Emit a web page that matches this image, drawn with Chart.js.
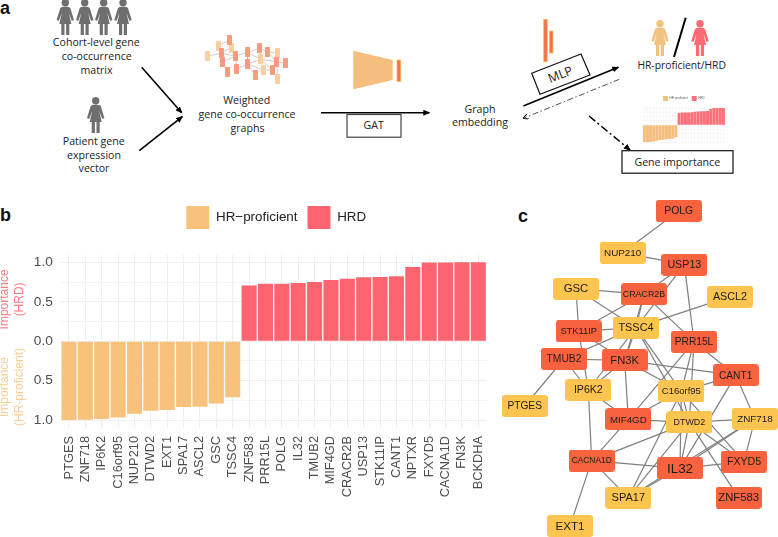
<!DOCTYPE html>
<html><head><meta charset="utf-8">
<script src="https://cdn.jsdelivr.net/npm/chart.js@4"></script>
<style>
html,body{margin:0;padding:0;background:#fff;width:778px;height:537px;overflow:hidden}
svg,canvas{position:absolute;display:block}
svg text{font-family:"Open Sans",sans-serif;fill:#222;text-anchor:middle;font-size:10.6px}
svg text.L{font-family:"Liberation Sans",sans-serif;font-weight:bold;font-size:18px;fill:#111;text-anchor:start}
</style></head><body>
<svg width="778" height="537" style="left:0;top:0">
<defs>
<g id="p"><circle cx="0" cy="3.7" r="3.7"/><path d="M-3.5,8 C-1,7.5 1,7.5 3.5,8 L5,9 L8.7,21 L6.5,22 L3.5,14 L6,25 H-6 L-3.5,14 L-6.5,22 L-8.7,21 L-5,9 Z"/><rect x="-4" y="25" width="3.2" height="11"/><rect x="0.8" y="25" width="3.2" height="11"/></g>
<marker id="ah" markerWidth="7" markerHeight="6" refX="6" refY="3" orient="auto" markerUnits="userSpaceOnUse"><path d="M0,0 L7,3 L0,6 Z" fill="#000"/></marker>
<marker id="ao" markerWidth="6" markerHeight="6" refX="5.5" refY="3" orient="auto" markerUnits="userSpaceOnUse"><path d="M0,0 L6,3 L0,6" fill="none" stroke="#000" stroke-width="0.9"/></marker>
</defs>
<text class="L" x="0" y="14">a</text><text class="L" x="0" y="221">b</text><text class="L" x="518" y="222">c</text>
<g fill="#6f6f6f"><use href="#p" x="65.3" y="-1"/><use href="#p" x="84.7" y="-1"/><use href="#p" x="103.7" y="-1"/><use href="#p" x="123" y="-1"/><use href="#p" x="95.7" y="97"/></g>
<use href="#p" x="660" y="20" fill="#F3C27E"/><use href="#p" x="700" y="20" fill="#FC6A74"/>
<line x1="685.7" y1="17.7" x2="674" y2="57" stroke="#000" stroke-width="2"/>
<text x="96.3" y="46">Cohort-level gene</text><text x="96.7" y="60">co-occurrence</text><text x="96.5" y="73.5">matrix</text>
<text x="93.7" y="145">Patient gene</text><text x="94" y="159">expression</text><text x="94" y="172">vector</text>
<text x="246.7" y="104">Weighted</text><text x="247" y="118">gene co-occurrence</text><text x="247.5" y="131.5">graphs</text>
<line x1="141.7" y1="67.3" x2="181.7" y2="112.7" stroke="#000" stroke-width="1.6" marker-end="url(#ah)"/>
<line x1="139.3" y1="150.7" x2="182.3" y2="116.7" stroke="#000" stroke-width="1.6" marker-end="url(#ah)"/>
<polygon points="353.3,50.7 392.7,60 392.7,80 353.3,89.3" fill="#F3BE7E"/>
<rect x="397" y="60" width="3.8" height="21.5" fill="#F4724A" stroke="#F6C05B" stroke-width="0.8"/>
<line x1="321" y1="112.7" x2="429.3" y2="112.7" stroke="#000" stroke-width="1.6" marker-end="url(#ah)"/>
<rect x="347" y="114.5" width="54" height="22.7" fill="#fff" stroke="#444" stroke-width="1.2"/>
<text x="373.7" y="129.3">GAT</text>
<text x="480" y="112.7">Graph</text><text x="480" y="126">embedding</text>
<rect x="543.7" y="19.4" width="3.6" height="42.4" fill="#F4724A" stroke="#F6C05B" stroke-width="0.8"/>
<rect x="549.4" y="31" width="3.6" height="22" fill="#F4724A" stroke="#F6C05B" stroke-width="0.8"/>
<polygon points="531.7,73.3 581,54 590,75 540,94.3" fill="#fff" stroke="#111" stroke-width="1.2"/>
<text x="0" y="0" transform="translate(561.7,78.5) rotate(-21)" style="font-size:12.5px">MLP</text>
<line x1="523.3" y1="106" x2="618.3" y2="67.3" stroke="#000" stroke-width="1.6" marker-end="url(#ah)"/>
<line x1="619.3" y1="79.3" x2="523.3" y2="118.3" stroke="#222" stroke-width="0.8" stroke-dasharray="6,2.5,1.5,2.5" marker-end="url(#ao)"/>
<line x1="589" y1="116" x2="630" y2="150" stroke="#000" stroke-width="1.5" stroke-dasharray="8,3,2,3" marker-end="url(#ah)"/>
<rect x="622" y="150.7" width="111" height="22.5" fill="#fff" stroke="#111" stroke-width="1.2"/>
<text x="677.3" y="166">Gene importance</text>
<text x="681.7" y="69" style="font-size:10.3px">HR-proficient/HRD</text>
</svg>
<canvas id="main" width="622" height="341" style="left:0;top:196px"></canvas>
<canvas id="net" width="288" height="347" style="left:490px;top:190px"></canvas>
<canvas id="miniGraph" width="100" height="65" style="left:195px;top:25px"></canvas>
<canvas id="miniBars" width="90" height="56" style="left:640px;top:92px"></canvas>
<script>
// ---- panel b: gene importance ----
const genes = ["PTGES","ZNF718","IP6K2","C16orf95","NUP210","DTWD2","EXT1","SPA17","ASCL2","GSC","TSSC4","ZNF583","PRR15L","POLG","IL32","TMUB2","MIF4GD","CRACR2B","USP13","STK11IP","CANT1","NPTXR","FXYD5","CACNA1D","FN3K","BCKDHA"];
const hrProficient = [-1.0,-0.995,-0.987,-0.966,-0.92,-0.88,-0.873,-0.835,-0.83,-0.79,-0.71,null,null,null,null,null,null,null,null,null,null,null,null,null,null,null];
const hrd = [null,null,null,null,null,null,null,null,null,null,null,0.707,0.729,0.729,0.737,0.75,0.775,0.79,0.81,0.813,0.822,0.94,0.998,0.998,1.0,1.0];
const yTicks = [-1,-0.75,-0.5,-0.25,0,0.25,0.5,0.75,1];
const seriesNames = ["HR\u2212proficient","HRD"];

// ---- panel c: co-expression network ----
const nodeNames = ["POLG","NUP210","USP13","GSC","CRACR2B","ASCL2","STK11IP","TSSC4","PRR15L","TMUB2","FN3K","CANT1","IP6K2","C16orf95","PTGES","MIF4GD","DTWD2","ZNF718","CACNA1D","IL32","FXYD5","SPA17","ZNF583","EXT1"];
const nodeX = [566,398,583,258,462,720,266,438,612,222,404,737,295,574,104,415,598,795,305,570,762,415,746,240];
const nodeY = [63,188,224,296,313,320,424,413,455,507,511,556,600,604,648,688,697,686,812,835,815,923,923,1008];
const nodeHrd = [1,0,1,0,1,0,1,0,1,1,1,1,0,0,0,1,0,0,1,1,1,0,1,0];
const nodeFont = [10.4,9.9,10.7,11.4,8.9,10.8,9.3,10.9,10.2,10.3,11.2,10.2,10.6,9.5,10.2,9.7,8.9,9.9,8.4,13.4,10.6,11,11.3,11.6];
const edges = [["POLG","NUP210"],["NUP210","USP13"],["USP13","CRACR2B"],["USP13","TSSC4"],["USP13","PRR15L"],
["GSC","CRACR2B"],["GSC","STK11IP"],["GSC","TSSC4"],["CRACR2B","STK11IP"],["CRACR2B","TSSC4"],["CRACR2B","FN3K"],["CRACR2B","PRR15L"],
["ASCL2","TSSC4"],["STK11IP","TSSC4"],["STK11IP","IP6K2"],["STK11IP","FN3K"],["TSSC4","TMUB2"],["TSSC4","FN3K"],["TSSC4","IP6K2"],["TSSC4","C16orf95"],["TSSC4","DTWD2"],
["TMUB2","FN3K"],["TMUB2","IP6K2"],["TMUB2","PTGES"],["FN3K","IP6K2"],["FN3K","CANT1"],["FN3K","C16orf95"],["FN3K","MIF4GD"],
["PRR15L","CANT1"],["PRR15L","C16orf95"],["PRR15L","DTWD2"],["PRR15L","MIF4GD"],["CANT1","C16orf95"],["CANT1","IL32"],["CANT1","ZNF718"],
["IP6K2","MIF4GD"],["IP6K2","CACNA1D"],["C16orf95","MIF4GD"],["C16orf95","DTWD2"],["C16orf95","IL32"],["C16orf95","FXYD5"],["C16orf95","SPA17"],
["DTWD2","MIF4GD"],["DTWD2","ZNF718"],["DTWD2","CACNA1D"],["DTWD2","IL32"],["DTWD2","FXYD5"],["DTWD2","ZNF583"],["DTWD2","SPA17"],
["ZNF718","IL32"],["ZNF718","FXYD5"],["ZNF718","SPA17"],["MIF4GD","CACNA1D"],["CACNA1D","IL32"],["CACNA1D","SPA17"],["CACNA1D","EXT1"],["IL32","FXYD5"],["IL32","SPA17"]];

// ---- panel a: thumbnail graph ----
const thumbX = [38,70,108,197,205,248,248,103,78,82,122,96,125,158,158,180,194,217,232,245,272];
const thumbY = [93,62,68,103,135,85,162,45,85,110,93,140,133,82,117,150,70,80,135,110,115];
const thumbHrd = [0,0,0,0,0,0,0,1,1,1,1,1,1,1,1,1,1,1,1,1,1];
const thumbEdges = [[0,8],[1,8],[1,9],[2,8],[2,10],[7,1],[8,10],[9,10],[9,11],[10,12],[10,13],[13,14],[13,16],[14,15],[14,3],[16,3],[16,17],[17,5],[3,4],[3,18],[4,18],[5,19],[19,20],[19,6],[18,6],[13,3],[14,4],[17,19],[12,14],[3,19]];

const ORANGE="#F8C17C", RED="#FD646F", GRID="#efefef", INK="#4d4d4d";
Chart.defaults.font.family='"Liberation Sans",Arial,sans-serif';
Chart.defaults.animation=false;
Chart.defaults.responsive=false;

const legendHeight = h => ({id:'legendHeight',afterInit(c){const f=c.legend.fit;c.legend.fit=function(){f.call(this);this.height=h;};}});
const legendShift = dx => ({id:'legendShift',afterLayout(c){c.legend.left+=dx;c.legend.right+=dx;}});
const setTicks = s => { s.ticks = yTicks.map(v=>({value:v})); };
const isMajor = v => Math.abs(v*2-Math.round(v*2))<1e-6;

const axisTitles = {id:'axisTitles',afterDraw(c){
  const ctx=c.ctx,y=c.scales.y;
  const put=(lines,val,col)=>{ctx.save();ctx.fillStyle=col;ctx.font='12px "Liberation Sans"';ctx.textAlign='center';ctx.textBaseline='middle';
    lines.forEach((t,i)=>{ctx.save();ctx.translate(4.7+15.3*i,y.getPixelForValue(val));ctx.rotate(-Math.PI/2);ctx.fillText(t,0,0);ctx.restore();});ctx.restore();};
  put(["Importance","(HRD)"],0.53,"#FB7B82");
  put(["Importance","(HR-proficient)"],-0.58,"#F9CE95");
}};

new Chart(document.getElementById('main'),{
  type:'bar',
  data:{labels:genes,datasets:[
    {label:seriesNames[0],data:hrProficient,backgroundColor:ORANGE,barPercentage:0.92,categoryPercentage:1},
    {label:seriesNames[1],data:hrd,backgroundColor:RED,barPercentage:0.92,categoryPercentage:1}]},
  options:{
    layout:{padding:{left:0,right:135.5,top:0,bottom:0}},
    plugins:{tooltip:{enabled:false},
      legend:{position:'top',labels:{boxWidth:23,boxHeight:23,padding:10,color:'#222',font:{size:13.4}}}},
    scales:{
      x:{stacked:true,grid:{color:GRID,lineWidth:1.1,offset:false,drawTicks:false},border:{display:false},
         afterFit(s){s.height=109;},
         ticks:{color:INK,font:{size:12.8},minRotation:90,maxRotation:90,autoSkip:false,padding:8}},
      y:{stacked:true,min:-1.1,max:1.1,afterBuildTicks:setTicks,afterFit(s){s.width=60.8;},
         grid:{color:GRID,drawTicks:false,lineWidth:c=>isMajor(c.tick.value)?1.1:0.7},border:{display:false},
         ticks:{color:INK,font:{size:13.7},padding:8,autoSkip:false,
           callback:v=>isMajor(v)?Math.abs(v).toFixed(1):''}}
    }},
  plugins:[legendHeight(58.4),legendShift(33),axisTitles]
});

// rounded node sprites
function sprite(w,h,r,col){const k=document.createElement('canvas');k.width=w;k.height=h;const g=k.getContext('2d');g.fillStyle=col;g.beginPath();g.roundRect(0,0,w,h,r);g.fill();return k;}
const spriteRed=sprite(46,22,3,"#F8623E"), spriteOrange=sprite(46,22,3,"#FDC54F");
const at=n=>{const i=nodeNames.indexOf(n);return {x:nodeX[i],y:nodeY[i]};};
const hiddenScale=(max,rev)=>({type:'linear',min:0,max,reverse:rev,display:false});

const nodeLabels={id:'nodeLabels',afterDatasetsDraw(c){
  const ctx=c.ctx,m=c.getDatasetMeta(0);
  ctx.save();ctx.fillStyle='#1c1c1c';ctx.textAlign='center';ctx.textBaseline='middle';
  m.data.forEach((p,i)=>{ctx.font=nodeFont[i]+'px "Liberation Sans"';ctx.fillText(nodeNames[i],p.x,p.y+0.5);});
  ctx.restore();
}};
new Chart(document.getElementById('net'),{
  type:'scatter',
  data:{datasets:[
    {label:'genes',order:0,clip:false,data:nodeNames.map((n,i)=>({x:nodeX[i],y:nodeY[i]})),
     pointStyle:nodeHrd.map(h=>h?spriteRed:spriteOrange),pointRadius:8},
    ...edges.map(e=>({order:1,type:'line',data:[at(e[0]),at(e[1])],borderColor:'#808080',borderWidth:1.2,pointRadius:0}))
  ]},
  options:{layout:{padding:0,autoPadding:false},plugins:{legend:{display:false},tooltip:{enabled:false}},
    scales:{x:hiddenScale(864,false),y:hiddenScale(1041,true)}},
  plugins:[nodeLabels]
});

// panel a thumbnails
const tRed=sprite(5,10,0.8,"#F79A80"), tOrange=sprite(5,10,0.8,"#F9CFA0");
new Chart(document.getElementById('miniGraph'),{
  type:'scatter',
  data:{datasets:[
    {order:0,clip:false,data:thumbX.map((x,i)=>({x,y:thumbY[i]})),pointStyle:thumbHrd.map(h=>h?tRed:tOrange),pointRadius:3},
    ...thumbEdges.map(e=>({order:1,type:'line',data:[{x:thumbX[e[0]],y:thumbY[e[0]]},{x:thumbX[e[1]],y:thumbY[e[1]]}],borderColor:'#b5b5b5',borderWidth:0.7,pointRadius:0}))
  ]},
  options:{layout:{padding:0,autoPadding:false},plugins:{legend:{display:false},tooltip:{enabled:false}},
    scales:{x:hiddenScale(300,false),y:hiddenScale(195,true)}}
});
new Chart(document.getElementById('miniBars'),{
  type:'bar',
  data:{labels:genes,datasets:[
    {label:seriesNames[0],data:hrProficient,backgroundColor:"#F5BE7E",barPercentage:0.95,categoryPercentage:1},
    {label:seriesNames[1],data:hrd,backgroundColor:"#FD6F79",barPercentage:0.95,categoryPercentage:1}]},
  options:{layout:{padding:{left:2.7,right:5,top:0,bottom:4.3}},
    plugins:{tooltip:{enabled:false},legend:{position:'top',labels:{boxWidth:5,boxHeight:5,padding:4,color:'#555',font:{size:3}}}},
    scales:{
      x:{stacked:true,grid:{color:'#f2f2f2',lineWidth:0.5,offset:false,drawTicks:false},border:{display:false},ticks:{display:false}},
      y:{stacked:true,min:-1.1,max:1.1,afterBuildTicks:setTicks,grid:{color:'#f2f2f2',lineWidth:0.5,drawTicks:false},border:{display:false},ticks:{display:false}}
    }},
  plugins:[legendHeight(14.3)]
});
</script>
</body></html>
